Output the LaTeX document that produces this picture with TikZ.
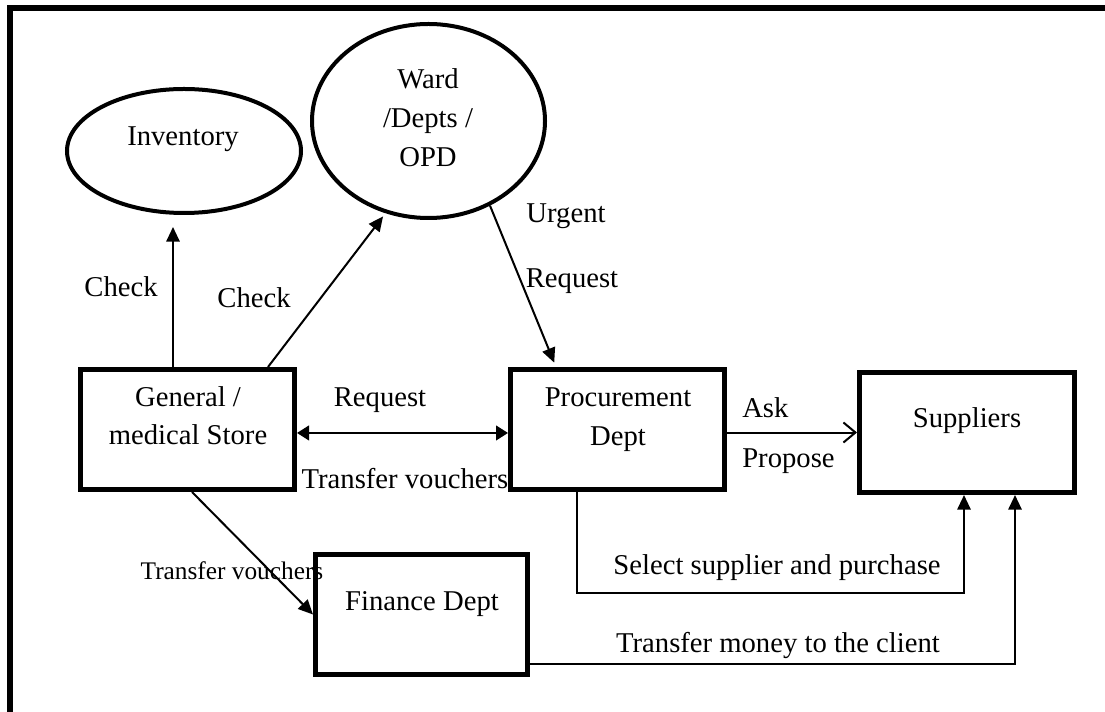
\documentclass[tikz,border=0pt]{standalone}
\usepackage{fontspec}
\setmainfont{Liberation Serif}
\usetikzlibrary{arrows.meta,shapes.geometric,calc}
\begin{document}
\begin{tikzpicture}[x=0.75pt,y=-0.75pt,
  txt/.style={font=\fontsize{21.5}{28}\selectfont, inner sep=0pt, anchor=base},
  smalltxt/.style={font=\fontsize{19}{24}\selectfont, inner sep=0pt, anchor=base},
  boxnode/.style={draw, rectangle, line width=3.75pt, minimum width=#1, minimum height=90pt, inner sep=0pt},
  oval/.style={draw, ellipse, line width=3pt, inner sep=0pt},
  link/.style={line width=1.5pt},
  tri/.style={-{Triangle[length=11pt,width=10pt]}},
  both/.style={{Triangle[length=9pt,width=11pt]}-{Triangle[length=9pt,width=11pt]}},
  barb/.style={-{Straight Barb[length=9pt,width=15pt,line width=1.5pt]}}
]
\useasboundingbox (0,0) rectangle (1105,712);

% outer frame (top and left edges)
\draw[line width=4.5pt, line join=miter] (10,712) -- (10,8) -- (1105,8);

% shapes
\node[oval, minimum width=175.5pt, minimum height=93pt] (inv) at (184,151) {};
\node[oval, minimum width=174.75pt, minimum height=145.5pt] (ward) at (428.5,121) {};
\node[boxnode=160.5pt] (store) at (187.5,429.5) {};
\node[boxnode=160.5pt] (proc) at (617.5,429.5) {};
\node[boxnode=161.25pt] (supp) at (967,432.5) {};
\node[boxnode=159pt] (fin) at (421.5,614.5) {};

% texts inside shapes
\node[txt] (invT) at (183,146) {Inventory};
\node[txt] (wardT1) at (428,89) {Ward};
\node[txt] (wardT2) at (428,128) {/Depts /};
\node[txt] (wardT3) at (428,167) {OPD};
\node[txt] (storeT1) at (188,406) {General /};
\node[txt] (storeT2) at (188,444) {medical Store};
\node[txt] (procT1) at (618,406) {Procurement};
\node[txt] (procT2) at (618,445) {Dept};
\node[txt] (suppT) at (967,427) {Suppliers};
\node[txt] (finT) at (422,610) {Finance Dept};

% connectors
\draw[link,tri,shorten >=9pt] (store.north -| 173,0) -- (inv.south -| 173,0);
\draw[link,tri,shorten >=3pt] (store.north -| 268,0) -- (ward.-115);
\draw[link,tri,shorten >=3.5pt] (ward.-54) -- (proc.north -| 556,0);
\draw[link,both] ([yshift=-2.6pt]store.east) -- ([yshift=-2.6pt]proc.west);
\draw[link,barb] (proc.east |- supp.west) -- (supp.west);
\coordinate (selTurn) at (964,593);
\draw[link,tri] (proc.south -| 577,0) |- (selTurn) -- (supp.south -| selTurn);
\coordinate (payTurn) at (1015,664);
\draw[link,tri] (fin.east |- payTurn) -- (payTurn) -- (supp.south -| payTurn);
\draw[link,tri] (store.south -| 192,0) -- (fin.west);

% connector labels
\node[txt] (chk1) at (121,297) {Check};
\node[txt] (chk2) at (254,308) {Check};
\node[txt] (urg1) at (566,223) {Urgent};
\node[txt] (urg2) at (572,288) {Request};
\node[txt] (req) at (380,406) {Request};
\node[txt] (tv1) at (405,488) {Transfer vouchers};
\node[txt, anchor=base west] (ask) at (742,417) {Ask};
\node[txt, anchor=base west] (prop) at (742,467) {Propose};
\node[txt] (sel) at (777,574) {Select supplier and purchase};
\node[txt] (pay) at (778,652) {Transfer money to the client};
\node[smalltxt] (tv2) at (232,579) {Transfer vouchers};
\end{tikzpicture}
\end{document}
